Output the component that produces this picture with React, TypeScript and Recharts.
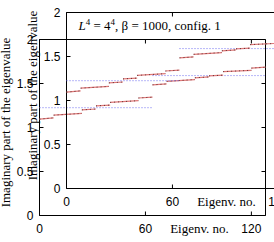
import React from "react";
import {
  LineChart,
  Line,
  XAxis,
  YAxis,
  ReferenceArea,
} from "recharts";

// eigenvalue steps (eigenvalue index range and imaginary part at its ends)
const segStart = [0, 8, 24, 32, 40, 56, 64, 72, 88, 96, 104, 120];
const segEnd = [8, 24, 32, 40, 56, 64, 72, 88, 96, 104, 120, 128];
const segFrom = [1.095, 1.14, 1.2, 1.245, 1.285, 1.335, 1.485, 1.525, 1.565, 1.587, 1.635, 1.675];
const segTo = [1.11, 1.16, 1.21, 1.255, 1.305, 1.345, 1.495, 1.545, 1.575, 1.595, 1.65, 1.685];

// mean value of each half
const meanStart = [0, 64];
const meanEnd = [64, 128];
const meanValue = [1.225, 1.59];

const xTicks = [0, 60, 120];
const yTicks = [0, 0.5, 1, 1.5, 2];

const title = "config. 1";

const PLOT = { left: 66.5, top: 12.5, width: 226, height: 176 };
const SANS = "'Liberation Sans', Arial, sans-serif";
const SERIF = "'Liberation Serif', 'Times New Roman', serif";

const XTick = (props: any) => {
  const { x, payload } = props;
  const bottom = PLOT.top + PLOT.height;
  return (
    <g>
      <line x1={x} x2={x} y1={bottom} y2={bottom - 4} stroke="#000" />
      <line x1={x} x2={x} y1={PLOT.top} y2={PLOT.top + 4} stroke="#000" />
      <text x={x} y={bottom + 17} textAnchor="middle" fontSize={12} fontFamily={SANS} fill="#000">
        {payload.value}
      </text>
    </g>
  );
};

const YTick = (props: any) => {
  const { y, payload } = props;
  const right = PLOT.left + PLOT.width;
  return (
    <g>
      <line x1={PLOT.left} x2={PLOT.left + 4} y1={y} y2={y} stroke="#000" />
      <line x1={right} x2={right - 4} y1={y} y2={y} stroke="#000" />
      <text x={PLOT.left - 6} y={y + 4.5} textAnchor="end" fontSize={12} fontFamily={SANS} fill="#000">
        {payload.value}
      </text>
    </g>
  );
};

const Panel = (props: { left: number; top: number; showTitle: boolean }) => {
  const { left, top, showTitle } = props;
  return (
    <div style={{ position: "absolute", left, top }}>
      <LineChart
        width={310}
        height={240}
        margin={{ top: PLOT.top, left: PLOT.left - 40, right: 310 - PLOT.left - PLOT.width, bottom: 240 - PLOT.top - PLOT.height - 30 }}
      >
        <XAxis
          type="number"
          dataKey="x"
          domain={[0, 128]}
          ticks={xTicks}
          height={30}
          axisLine={false}
          tickLine={false}
          tickSize={0}
          tick={<XTick />}
          label={{
            content: () => (
              <text x={PLOT.left + 160} y={PLOT.top + PLOT.height + 17} textAnchor="middle" fontSize={13} fontFamily={SERIF} fill="#000">
                Eigenv. no.
              </text>
            ),
          }}
        />
        <YAxis
          type="number"
          domain={[0, 2]}
          ticks={yTicks}
          width={40}
          axisLine={false}
          tickLine={false}
          tickSize={0}
          tick={<YTick />}
          label={{
            content: () => (
              <text
                transform={`translate(${PLOT.left - 30}, ${PLOT.top + PLOT.height / 2 - 5}) rotate(-90)`}
                textAnchor="middle"
                fontSize={13}
                fontFamily={SERIF}
                fill="#000"
              >
                Imaginary part of the eigenvalue
              </text>
            ),
          }}
        />
        <ReferenceArea x1={0} x2={128} y1={0} y2={2} fill="none" stroke="#000" strokeWidth={1} ifOverflow="visible" />
        {meanValue.map((v, i) => (
          <Line
            key={"m" + i}
            data={[
              { x: meanStart[i], y: v },
              { x: meanEnd[i], y: v },
            ]}
            dataKey="y"
            stroke="#7070f0"
            strokeWidth={1}
            strokeDasharray="1 2"
            dot={false}
            isAnimationActive={false}
          />
        ))}
        {segStart.map((s, i) => (
          <Line
            key={"s" + i}
            data={[
              { x: s, y: segFrom[i] },
              { x: segEnd[i], y: segTo[i] },
            ]}
            dataKey="y"
            stroke="#e07878"
            strokeWidth={1.2}
            dot={false}
            isAnimationActive={false}
          />
        ))}
        {segStart.map((s, i) => (
          <Line
            key={"p" + i}
            data={[
              { x: s, y: segFrom[i] },
              { x: segEnd[i], y: segTo[i] },
            ]}
            dataKey="y"
            stroke="#402020"
            strokeWidth={0.8}
            strokeDasharray="1 3"
            dot={false}
            isAnimationActive={false}
          />
        ))}
      </LineChart>
      {showTitle && (
        <div
          style={{
            position: "absolute",
            left: PLOT.left + 12,
            top: PLOT.top + 1,
            fontFamily: SERIF,
            fontSize: 13,
            whiteSpace: "nowrap",
            lineHeight: "16px",
          }}
        >
          <i>L</i>
          <sup style={{ fontSize: 9 }}>4</sup> = 4<sup style={{ fontSize: 9 }}>4</sup>, β = 1000, {title}
        </div>
      )}
    </div>
  );
};

export default function App() {
  return (
    <div style={{ position: "fixed", left: 0, top: 0, width: 274, height: 242, overflow: "hidden", background: "#fff" }}>
      <Panel left={-27} top={27} showTitle={false} />
      <Panel left={0} top={0} showTitle={true} />
    </div>
  );
}
